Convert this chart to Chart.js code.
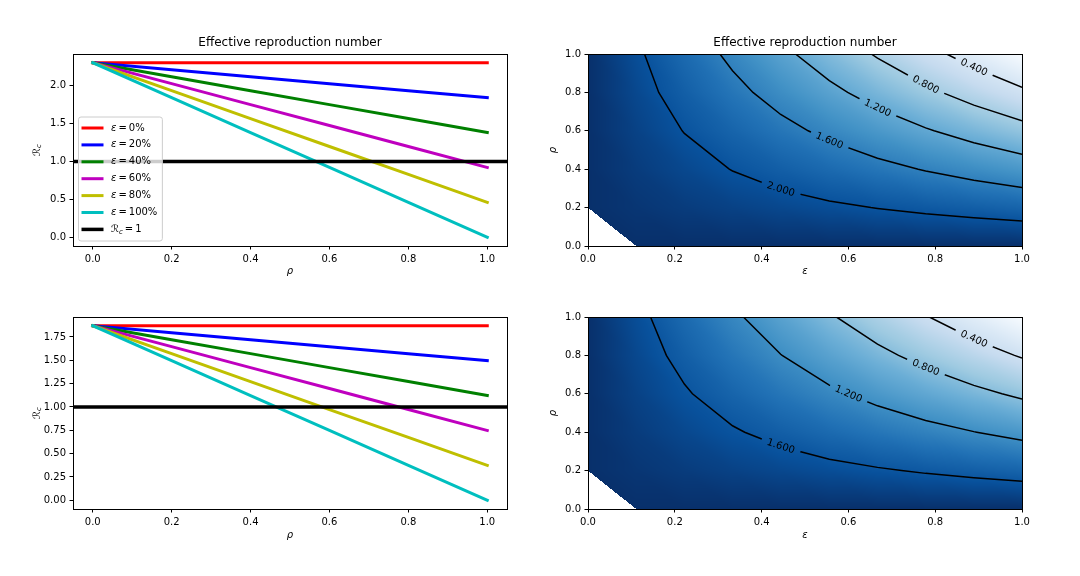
<!DOCTYPE html>
<html>
<head>
<meta charset="utf-8">
<script src="https://cdn.jsdelivr.net/npm/chart.js@4.4.0/dist/chart.umd.min.js"></script>
<style>
  html, body { margin: 0; padding: 0; background: #fff; }
  #fig { position: relative; width: 1080px; height: 576px; background: #fff; }
  #fig canvas { position: absolute; }
</style>
</head>
<body>
<div id="fig">
  <canvas id="c1" width="540" height="288" style="left:0;top:0"></canvas>
  <canvas id="c2" width="540" height="288" style="left:540px;top:0"></canvas>
  <canvas id="c3" width="540" height="288" style="left:0;top:288px"></canvas>
  <canvas id="c4" width="540" height="288" style="left:540px;top:288px"></canvas>
</div>
<script>
const FONT = "'DejaVu Sans', sans-serif"
Chart.defaults.font.family = FONT
Chart.defaults.font.size = 10
Chart.defaults.color = '#000'
Chart.defaults.animation = false

// ---- left column: R_c against rho, one line per efficacy ----
const rhoValues = [0, 0.2, 0.4, 0.6, 0.8, 1.0]
const efficacies = ['0%', '20%', '40%', '60%', '80%', '100%']
const lineColors = ['#ff0000', '#0000ff', '#008000', '#bf00bf', '#bfbf00', '#00bfbf']

const topEff0   = [2.30, 2.30, 2.30, 2.30, 2.30, 2.30]
const topEff20  = [2.30, 2.208, 2.116, 2.024, 1.932, 1.84]
const topEff40  = [2.30, 2.116, 1.932, 1.748, 1.564, 1.38]
const topEff60  = [2.30, 2.024, 1.748, 1.472, 1.196, 0.92]
const topEff80  = [2.30, 1.932, 1.564, 1.196, 0.828, 0.46]
const topEff100 = [2.30, 1.84, 1.38, 0.92, 0.46, 0.0]

const botEff0   = [1.87, 1.87, 1.87, 1.87, 1.87, 1.87]
const botEff20  = [1.87, 1.795, 1.72, 1.646, 1.571, 1.496]
const botEff40  = [1.87, 1.72, 1.571, 1.421, 1.272, 1.122]
const botEff60  = [1.87, 1.646, 1.421, 1.197, 0.972, 0.748]
const botEff80  = [1.87, 1.571, 1.272, 0.972, 0.673, 0.374]
const botEff100 = [1.87, 1.496, 1.122, 0.748, 0.374, 0.0]

const threshold = 1
const rhoAxisEnds = [-0.05, 1.05]

const rhoTicks = [0, 0.2, 0.4, 0.6, 0.8, 1.0]
const yTicksTop = [0, 0.5, 1.0, 1.5, 2.0]
const yTicksBottom = [0, 0.25, 0.5, 0.75, 1.0, 1.25, 1.5, 1.75]
const unitTicks = [0, 0.2, 0.4, 0.6, 0.8, 1.0]

// ---- right column: R_c over the (epsilon, rho) grid, rows follow rhoGrid ----
const epsGrid = [0, 0.111, 0.222, 0.333, 0.444, 0.556, 0.667, 0.778, 0.889, 1.0]
const rhoGrid = [0, 0.2, 0.4, 0.6, 0.8, 1.0]
const heatTop = [
  [2.300, 2.300, 2.300, 2.300, 2.300, 2.300, 2.300, 2.300, 2.300, 2.300],
  [2.300, 2.249, 2.198, 2.147, 2.096, 2.044, 1.993, 1.942, 1.891, 1.840],
  [2.300, 2.198, 2.096, 1.993, 1.891, 1.789, 1.687, 1.584, 1.482, 1.380],
  [2.300, 2.147, 1.993, 1.840, 1.687, 1.533, 1.380, 1.227, 1.073, 0.920],
  [2.300, 2.096, 1.891, 1.687, 1.482, 1.278, 1.073, 0.869, 0.664, 0.460],
  [2.300, 2.044, 1.789, 1.533, 1.278, 1.022, 0.767, 0.511, 0.256, 0.000]
]
const heatBottom = [
  [1.870, 1.870, 1.870, 1.870, 1.870, 1.870, 1.870, 1.870, 1.870, 1.870],
  [1.870, 1.828, 1.787, 1.745, 1.704, 1.662, 1.621, 1.579, 1.538, 1.496],
  [1.870, 1.787, 1.704, 1.621, 1.538, 1.454, 1.371, 1.288, 1.205, 1.122],
  [1.870, 1.745, 1.621, 1.496, 1.371, 1.247, 1.122, 0.997, 0.873, 0.748],
  [1.870, 1.704, 1.538, 1.371, 1.205, 1.039, 0.873, 0.706, 0.540, 0.374],
  [1.870, 1.662, 1.454, 1.247, 1.039, 0.831, 0.623, 0.416, 0.208, 0.000]
]
const levelsTop = [0.4, 0.8, 1.2, 1.6, 2.0]
const labelEpsTop = [0.889, 0.778, 0.667, 0.556, 0.444]
const levelsBottom = [0.4, 0.8, 1.2, 1.6]
const labelEpsBottom = [0.889, 0.778, 0.6, 0.444]

// matplotlib "Blues"
const bluesStops = [[247,251,255],[222,235,247],[198,219,239],[158,202,225],[107,174,214],
                    [66,146,198],[33,113,181],[8,81,156],[8,48,107]]

function blues(t) {
    t = Math.min(1, Math.max(0, t)) * (bluesStops.length - 1)
    const k = Math.min(bluesStops.length - 2, Math.floor(t)), f = t - k
    const a = bluesStops[k], b = bluesStops[k + 1]
    return [0, 1, 2].map(c => Math.round(a[c] + f * (b[c] - a[c])))
}

// value on the triangulated grid (cells split top-left to bottom-right, like contourf)
function gridValue(z, zmax, eps, rho) {
    let j = 0, i = 0
    while (j < epsGrid.length - 2 && eps > epsGrid[j + 1]) j++
    while (i < rhoGrid.length - 2 && rho > rhoGrid[i + 1]) i++
    const u = (eps - epsGrid[j]) / (epsGrid[j + 1] - epsGrid[j])
    const v = (rho - rhoGrid[i]) / (rhoGrid[i + 1] - rhoGrid[i])
    const z00 = z[i][j], z10 = z[i][j + 1], z01 = z[i + 1][j], z11 = z[i + 1][j + 1]
    if (u + v <= 1) {
        if (z00 === zmax && z10 === zmax && z01 === zmax) return null
        return z00 + u * (z10 - z00) + v * (z01 - z00)
    }
    return z11 + (1 - u) * (z01 - z11) + (1 - v) * (z10 - z11)
}

// crossings of a level with the grid edges, joined left to right
function contourLine(z, level) {
    const pts = []
    for (let i = 0; i < rhoGrid.length; i++) {
        for (let j = 0; j < epsGrid.length - 1; j++) {
            const a = z[i][j], b = z[i][j + 1]
            if ((a - level) * (b - level) < 0) {
                const f = (level - a) / (b - a)
                pts.push({x: epsGrid[j] + f * (epsGrid[j + 1] - epsGrid[j]), y: rhoGrid[i]})
            }
        }
    }
    for (let j = 0; j < epsGrid.length; j++) {
        for (let i = 0; i < rhoGrid.length - 1; i++) {
            const a = z[i][j], b = z[i + 1][j]
            if ((a - level) * (b - level) < 0) {
                const f = (level - a) / (b - a)
                pts.push({x: epsGrid[j], y: rhoGrid[i] + f * (rhoGrid[i + 1] - rhoGrid[i])})
            }
        }
    }
    pts.sort((p, q) => p.x - q.x || q.y - p.y)
    return pts
}

// text with italic greek letters and "_c" style subscripts
function drawMath(ctx, text, x, y, size, measureOnly) {
    let cx = x
    for (let k = 0; k < text.length; k++) {
        let ch = text[k], sub = false
        if (ch === '_') { sub = true; ch = text[++k] }
        const italic = sub || ch === 'ε' || ch === 'ρ'
        const fs = sub ? size * 0.7 : size
        ctx.font = (italic ? 'italic ' : '') + fs + 'px ' + FONT
        if (!measureOnly) ctx.fillText(ch, cx, sub ? y + size * 0.25 : y)
        cx += ctx.measureText(ch).width
    }
    return cx - x
}

const decoByCanvas = {}

function drawHeat(chart, z) {
    const {left, top, right, bottom} = chart.chartArea
    const w = Math.round(right - left), h = Math.round(bottom - top)
    const off = document.createElement('canvas')
    off.width = w
    off.height = h
    const octx = off.getContext('2d')
    const img = octx.createImageData(w, h)
    const flat = z.flat()
    const zmax = Math.max(...flat), zmin = Math.min(...flat)
    const cols = [], rows = []
    for (let px = 0; px < w; px++) cols.push(chart.scales.x.getValueForPixel(left + px + 0.5))
    for (let py = 0; py < h; py++) rows.push(chart.scales.y.getValueForPixel(top + py + 0.5))
    for (let py = 0; py < h; py++) {
        for (let px = 0; px < w; px++) {
            const val = gridValue(z, zmax, cols[px], rows[py])
            if (val === null) continue
            const c = blues((val - zmin) / (zmax - zmin))
            const o = (py * w + px) * 4
            img.data[o] = c[0]; img.data[o + 1] = c[1]; img.data[o + 2] = c[2]; img.data[o + 3] = 255
        }
    }
    octx.putImageData(img, 0, 0)
    chart.ctx.drawImage(off, left, top, w, h)
}

function labelGeom(chart, index, cfg) {
    const lab = cfg.labels[index]
    if (!lab) return null
    const xs = chart.scales.x, ys = chart.scales.y
    const pts = chart.data.datasets[index].data.map(p => [xs.getPixelForValue(p.x), ys.getPixelForValue(p.y)])
    const at = px => {
        for (let k = 0; k < pts.length - 1; k++) {
            if (px >= pts[k][0] && px <= pts[k + 1][0]) {
                const f = (px - pts[k][0]) / ((pts[k + 1][0] - pts[k][0]) || 1)
                return pts[k][1] + f * (pts[k + 1][1] - pts[k][1])
            }
        }
        return pts[pts.length - 1][1]
    }
    const cx = xs.getPixelForValue(lab.eps), cy = at(cx)
    const angle = Math.atan2(at(cx + 10) - at(cx - 10), 20)
    chart.ctx.font = '10px ' + FONT
    const w = chart.ctx.measureText(lab.text).width
    return {cx, cy, angle, w, text: lab.text}
}

function drawLegend(chart) {
    const ctx = chart.ctx, area = chart.chartArea
    const items = chart.data.datasets
    const rowH = 16.9, size = 10
    ctx.save()
    ctx.textBaseline = 'middle'
    ctx.textAlign = 'left'
    const textW = Math.max(...items.map(d => drawMath(ctx, d.label, 0, 0, size, true)))
    const w = 32.5 + textW + 5, h = 22.6 + rowH * (items.length - 1)
    const x0 = area.left + 5.5, y0 = area.bottom - 5 - h
    ctx.beginPath()
    ctx.roundRect(x0, y0, w, h, 2.5)
    ctx.fillStyle = 'rgba(255,255,255,0.8)'
    ctx.fill()
    ctx.strokeStyle = '#cccccc'
    ctx.lineWidth = 1
    ctx.stroke()
    items.forEach((d, k) => {
        const y = y0 + 11 + k * rowH
        ctx.strokeStyle = d.borderColor
        ctx.lineWidth = d.borderWidth
        ctx.beginPath()
        ctx.moveTo(x0 + 3, y)
        ctx.lineTo(x0 + 25, y)
        ctx.stroke()
        ctx.fillStyle = '#000'
        drawMath(ctx, d.label, x0 + 32.5, y, size)
    })
    ctx.restore()
}

const decoPlugin = {
    id: 'deco',
    beforeDatasetsDraw(chart) {
        const cfg = decoByCanvas[chart.canvas.id]
        if (cfg && cfg.heat) drawHeat(chart, cfg.heat)
    },
    beforeDatasetDraw(chart, args) {
        const cfg = decoByCanvas[chart.canvas.id]
        if (!cfg || !cfg.labels) return
        const ctx = chart.ctx
        ctx.save()
        const g = labelGeom(chart, args.index, cfg)
        if (!g) return
        const {left, top, right, bottom} = chart.chartArea
        const hw = g.w / 2 + 6, hh = 7
        const cos = Math.cos(g.angle), sin = Math.sin(g.angle)
        const corner = (a, b) => [g.cx + a * cos - b * sin, g.cy + a * sin + b * cos]
        ctx.beginPath()
        ctx.rect(left - 5, top - 5, right - left + 10, bottom - top + 10)
        const cs = [corner(-hw, -hh), corner(hw, -hh), corner(hw, hh), corner(-hw, hh)]
        ctx.moveTo(cs[0][0], cs[0][1])
        cs.slice(1).forEach(c => ctx.lineTo(c[0], c[1]))
        ctx.closePath()
        ctx.clip('evenodd')
    },
    afterDatasetDraw(chart) {
        const cfg = decoByCanvas[chart.canvas.id]
        if (cfg && cfg.labels) chart.ctx.restore()
    },
    afterDatasetsDraw(chart) {
        const cfg = decoByCanvas[chart.canvas.id] || {}
        const ctx = chart.ctx
        const {left, top, right, bottom} = chart.chartArea
        if (cfg.labels) {
            chart.data.datasets.forEach((d, i) => {
                const g = labelGeom(chart, i, cfg)
                if (!g) return
                ctx.save()
                ctx.translate(g.cx, g.cy)
                ctx.rotate(g.angle)
                ctx.font = '10px ' + FONT
                ctx.fillStyle = '#000'
                ctx.textAlign = 'center'
                ctx.textBaseline = 'middle'
                ctx.fillText(g.text, 0, 0)
                ctx.restore()
            })
        }
        if (cfg.legend) drawLegend(chart)
        if (cfg.yMath) {
            ctx.save()
            ctx.translate(cfg.yMathX, (top + bottom) / 2)
            ctx.rotate(-Math.PI / 2)
            ctx.textBaseline = 'middle'
            ctx.fillStyle = '#000'
            const w = drawMath(ctx, cfg.yMath, 0, 0, 10, true)
            drawMath(ctx, cfg.yMath, -w / 2, 0, 10)
            ctx.restore()
        }
        // all four spines
        ctx.save()
        ctx.strokeStyle = '#000'
        ctx.lineWidth = 1
        ctx.strokeRect(left + 0.5, top + 0.5, right - left, bottom - top)
        ctx.restore()
    }
}
Chart.register(decoPlugin)

function axisX(min, max, ticks, digits, label, height, titlePad) {
    return {
        type: 'linear', min: min, max: max,
        afterBuildTicks: s => { s.ticks = ticks.map(v => ({value: v})) },
        afterFit: s => { s.height = height },
        ticks: {maxRotation: 0, autoSkip: false, padding: 3.5, color: '#000',
                callback: v => Number(v).toFixed(digits)},
        grid: {drawOnChartArea: false, tickLength: 3.5, color: '#000'},
        border: {display: false},
        title: {display: true, text: label, font: {style: 'italic', size: 10}, color: '#000',
                padding: {top: 0, bottom: titlePad}}
    }
}

function axisY(min, max, ticks, digits, width, label, titlePad) {
    return {
        type: 'linear', min: min, max: max,
        afterBuildTicks: s => { s.ticks = ticks.map(v => ({value: v})) },
        afterFit: s => { s.width = width },
        ticks: {padding: 3.5, color: '#000', callback: v => Number(v).toFixed(digits)},
        grid: {drawOnChartArea: false, tickLength: 3.5, color: '#000'},
        border: {display: false},
        title: {display: !!label, text: label || '', font: {style: 'italic', size: 10}, color: '#000',
                padding: {top: titlePad, bottom: 0}}
    }
}

function titleOpts(show) {
    return {
        display: show, text: 'Effective reproduction number', fullSize: false,
        font: {size: 12, weight: 'normal'}, color: '#000',
        padding: {top: 36, bottom: 3.6}
    }
}

function lineChart(canvasId, series, yMin, yMax, yTicks, digits, isTop) {
    const datasets = series.map((vals, i) => ({
        label: 'ε\u2009=\u2009' + efficacies[i],
        data: rhoValues.map((r, k) => ({x: r, y: vals[k]})),
        borderColor: lineColors[i],
        borderWidth: 3,
        borderCapStyle: 'square',
        pointRadius: 0,
        order: series.length - i
    }))
    datasets.push({
        label: 'ℛ_c\u2009=\u20091',
        data: rhoAxisEnds.map(r => ({x: r, y: threshold})),
        borderColor: '#000',
        borderWidth: 3.5,
        pointRadius: 0,
        clip: 0,
        order: 0
    })
    decoByCanvas[canvasId] = {legend: isTop, yMath: 'ℛ_c', yMathX: 37}
    return new Chart(document.getElementById(canvasId), {
        type: 'line',
        data: {datasets: datasets},
        options: {
            responsive: false,
            events: [],
            layout: {padding: {left: 0, right: 33, top: isTop ? 0 : 29, bottom: 0}},
            plugins: {legend: {display: false}, tooltip: {enabled: false}, title: titleOpts(isTop)},
            scales: {
                x: axisX(rhoAxisEnds[0], rhoAxisEnds[1], rhoTicks, 1, 'ρ', isTop ? 42 : 67, isTop ? 11 : 35),
                y: axisY(yMin, yMax, yTicks, digits, 73, null, 0)
            }
        }
    })
}

function heatChart(canvasId, z, levels, labelEps, isTop) {
    const datasets = levels.map(level => ({
        label: level.toFixed(3),
        data: contourLine(z, level),
        borderColor: '#000',
        borderWidth: 1.5,
        pointRadius: 0
    }))
    decoByCanvas[canvasId] = {
        heat: z,
        labels: levels.map((level, i) => ({eps: labelEps[i], text: level.toFixed(3)}))
    }
    return new Chart(document.getElementById(canvasId), {
        type: 'line',
        data: {datasets: datasets},
        options: {
            responsive: false,
            events: [],
            layout: {padding: {left: 0, right: 58, top: isTop ? 0 : 29, bottom: 0}},
            plugins: {legend: {display: false}, tooltip: {enabled: false}, title: titleOpts(isTop)},
            scales: {
                x: axisX(0, 1, unitTicks, 1, 'ε', isTop ? 42 : 67, isTop ? 11 : 35),
                y: axisY(0, 1, unitTicks, 1, 48, 'ρ', 7)
            }
        }
    })
}

lineChart('c1', [topEff0, topEff20, topEff40, topEff60, topEff80, topEff100], -0.115, 2.415, yTicksTop, 1, true)
heatChart('c2', heatTop, levelsTop, labelEpsTop, true)
lineChart('c3', [botEff0, botEff20, botEff40, botEff60, botEff80, botEff100], -0.0935, 1.9635, yTicksBottom, 2, false)
heatChart('c4', heatBottom, levelsBottom, labelEpsBottom, false)
</script>
</body>
</html>
